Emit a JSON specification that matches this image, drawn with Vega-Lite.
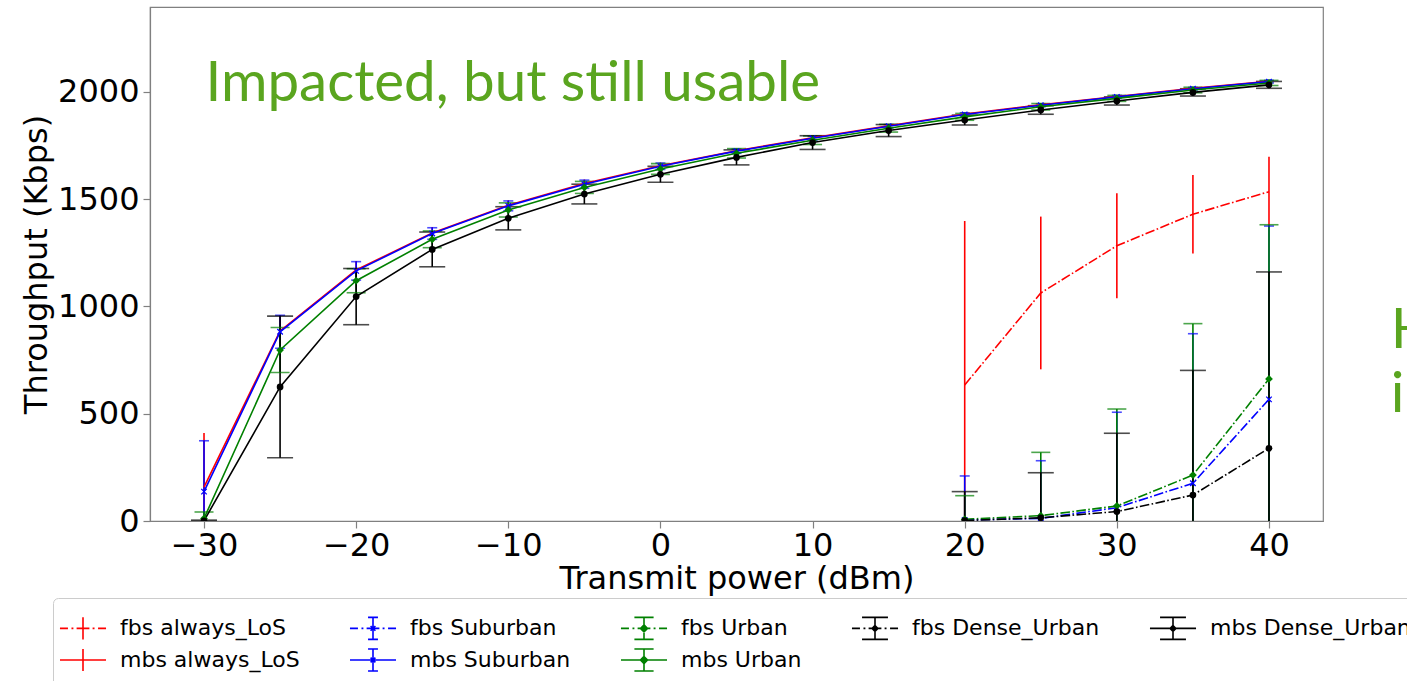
{
  "$schema": "https://vega.github.io/schema/vega-lite/v6.json",
  "width": 1173,
  "height": 514,
  "autosize": {"type": "none"},
  "padding": {"left": 150, "top": 7, "right": 84, "bottom": 160},
  "background": "white",
  "config": {
    "font": "DejaVu Sans",
    "view": {"stroke": "#808080", "strokeWidth": 1.2},
    "axis": {
      "grid": false,
      "domainColor": "#808080",
      "domainWidth": 1.2,
      "tickColor": "#808080",
      "tickSize": 7,
      "tickWidth": 1.2,
      "labelFont": "DejaVu Sans",
      "labelFontSize": 32,
      "labelColor": "black",
      "titleFont": "DejaVu Sans",
      "titleFontSize": 32,
      "titleFontWeight": "normal",
      "titleColor": "black"
    },
    "legend": {
      "orient": "none",
      "legendX": -97,
      "legendY": 591,
      "direction": "horizontal",
      "columns": 5,
      "symbolSize": 1024,
      "symbolStrokeWidth": 1.6,
      "symbolOpacity": 1,
      "labelFont": "DejaVu Sans",
      "labelFontSize": 22,
      "labelColor": "black",
      "labelOffset": 20,
      "labelLimit": 400,
      "columnPadding": 46,
      "rowPadding": 0,
      "padding": 13,
      "strokeColor": "#cccccc",
      "cornerRadius": 5,
      "fillColor": "white"
    }
  },
  "resolve": {"legend": {"color": "independent", "shape": "independent", "size": "independent"}},
  "datasets": {
    "d": [
      {"s": "fbs always_LoS", "x": 20, "y": 634, "lo": -131, "hi": 1399},
      {"s": "fbs always_LoS", "x": 25, "y": 1063, "lo": 707, "hi": 1419},
      {"s": "fbs always_LoS", "x": 30, "y": 1283, "lo": 1038, "hi": 1528},
      {"s": "fbs always_LoS", "x": 35, "y": 1430, "lo": 1247, "hi": 1613},
      {"s": "fbs always_LoS", "x": 40, "y": 1535, "lo": 1372, "hi": 1698},
      {"s": "mbs always_LoS", "x": -30, "y": 158, "lo": -94, "hi": 410},
      {"s": "mbs always_LoS", "x": -25, "y": 886, "lo": 814, "hi": 958},
      {"s": "mbs always_LoS", "x": -20, "y": 1170, "lo": 1128, "hi": 1212},
      {"s": "mbs always_LoS", "x": -15, "y": 1343, "lo": 1316, "hi": 1370},
      {"s": "mbs always_LoS", "x": -10, "y": 1472, "lo": 1449, "hi": 1495},
      {"s": "mbs always_LoS", "x": -5, "y": 1573, "lo": 1554, "hi": 1592},
      {"s": "mbs always_LoS", "x": 0, "y": 1656, "lo": 1641, "hi": 1671},
      {"s": "mbs always_LoS", "x": 5, "y": 1726, "lo": 1716, "hi": 1736},
      {"s": "mbs always_LoS", "x": 10, "y": 1786, "lo": 1777, "hi": 1795},
      {"s": "mbs always_LoS", "x": 15, "y": 1842, "lo": 1834, "hi": 1850},
      {"s": "mbs always_LoS", "x": 20, "y": 1897, "lo": 1889, "hi": 1905},
      {"s": "mbs always_LoS", "x": 25, "y": 1940, "lo": 1933, "hi": 1947},
      {"s": "mbs always_LoS", "x": 30, "y": 1979, "lo": 1972, "hi": 1986},
      {"s": "mbs always_LoS", "x": 35, "y": 2017, "lo": 2011, "hi": 2023},
      {"s": "mbs always_LoS", "x": 40, "y": 2050, "lo": 2044, "hi": 2056},
      {"s": "fbs Suburban", "x": 20, "y": 5, "lo": -200, "hi": 210},
      {"s": "fbs Suburban", "x": 25, "y": 12, "lo": -257, "hi": 281},
      {"s": "fbs Suburban", "x": 30, "y": 62, "lo": -383, "hi": 507},
      {"s": "fbs Suburban", "x": 35, "y": 176, "lo": -521, "hi": 873},
      {"s": "fbs Suburban", "x": 40, "y": 567, "lo": -241, "hi": 1375},
      {"s": "mbs Suburban", "x": -30, "y": 137, "lo": -100, "hi": 374},
      {"s": "mbs Suburban", "x": -25, "y": 882, "lo": 805, "hi": 959},
      {"s": "mbs Suburban", "x": -20, "y": 1166, "lo": 1123, "hi": 1209},
      {"s": "mbs Suburban", "x": -15, "y": 1340, "lo": 1313, "hi": 1367},
      {"s": "mbs Suburban", "x": -10, "y": 1469, "lo": 1446, "hi": 1492},
      {"s": "mbs Suburban", "x": -5, "y": 1570, "lo": 1551, "hi": 1589},
      {"s": "mbs Suburban", "x": 0, "y": 1654, "lo": 1639, "hi": 1669},
      {"s": "mbs Suburban", "x": 5, "y": 1724, "lo": 1714, "hi": 1734},
      {"s": "mbs Suburban", "x": 10, "y": 1784, "lo": 1775, "hi": 1793},
      {"s": "mbs Suburban", "x": 15, "y": 1840, "lo": 1832, "hi": 1848},
      {"s": "mbs Suburban", "x": 20, "y": 1895, "lo": 1887, "hi": 1903},
      {"s": "mbs Suburban", "x": 25, "y": 1938, "lo": 1931, "hi": 1945},
      {"s": "mbs Suburban", "x": 30, "y": 1977, "lo": 1970, "hi": 1984},
      {"s": "mbs Suburban", "x": 35, "y": 2015, "lo": 2009, "hi": 2021},
      {"s": "mbs Suburban", "x": 40, "y": 2048, "lo": 2042, "hi": 2054},
      {"s": "fbs Urban", "x": 20, "y": 8, "lo": -102, "hi": 118},
      {"s": "fbs Urban", "x": 25, "y": 25, "lo": -270, "hi": 320},
      {"s": "fbs Urban", "x": 30, "y": 70, "lo": -382, "hi": 522},
      {"s": "fbs Urban", "x": 35, "y": 214, "lo": -492, "hi": 920},
      {"s": "fbs Urban", "x": 40, "y": 662, "lo": -57, "hi": 1381},
      {"s": "mbs Urban", "x": -30, "y": 12, "lo": -18, "hi": 42},
      {"s": "mbs Urban", "x": -25, "y": 797, "lo": 692, "hi": 902},
      {"s": "mbs Urban", "x": -20, "y": 1120, "lo": 1064, "hi": 1176},
      {"s": "mbs Urban", "x": -15, "y": 1313, "lo": 1274, "hi": 1352},
      {"s": "mbs Urban", "x": -10, "y": 1450, "lo": 1417, "hi": 1483},
      {"s": "mbs Urban", "x": -5, "y": 1555, "lo": 1527, "hi": 1583},
      {"s": "mbs Urban", "x": 0, "y": 1641, "lo": 1616, "hi": 1666},
      {"s": "mbs Urban", "x": 5, "y": 1714, "lo": 1692, "hi": 1736},
      {"s": "mbs Urban", "x": 10, "y": 1775, "lo": 1755, "hi": 1795},
      {"s": "mbs Urban", "x": 15, "y": 1831, "lo": 1813, "hi": 1849},
      {"s": "mbs Urban", "x": 20, "y": 1884, "lo": 1868, "hi": 1900},
      {"s": "mbs Urban", "x": 25, "y": 1931, "lo": 1916, "hi": 1946},
      {"s": "mbs Urban", "x": 30, "y": 1970, "lo": 1956, "hi": 1984},
      {"s": "mbs Urban", "x": 35, "y": 2009, "lo": 1996, "hi": 2022},
      {"s": "mbs Urban", "x": 40, "y": 2042, "lo": 2030, "hi": 2054},
      {"s": "fbs Dense_Urban", "x": 20, "y": 2, "lo": -133, "hi": 137},
      {"s": "fbs Dense_Urban", "x": 25, "y": 15, "lo": -195, "hi": 225},
      {"s": "fbs Dense_Urban", "x": 30, "y": 44, "lo": -321, "hi": 409},
      {"s": "fbs Dense_Urban", "x": 35, "y": 121, "lo": -460, "hi": 702},
      {"s": "fbs Dense_Urban", "x": 40, "y": 339, "lo": -483, "hi": 1161},
      {"s": "mbs Dense_Urban", "x": -30, "y": 1, "lo": -2, "hi": 4},
      {"s": "mbs Dense_Urban", "x": -25, "y": 625, "lo": 295, "hi": 955},
      {"s": "mbs Dense_Urban", "x": -20, "y": 1046, "lo": 915, "hi": 1177},
      {"s": "mbs Dense_Urban", "x": -15, "y": 1266, "lo": 1185, "hi": 1347},
      {"s": "mbs Dense_Urban", "x": -10, "y": 1411, "lo": 1357, "hi": 1465},
      {"s": "mbs Dense_Urban", "x": -5, "y": 1524, "lo": 1478, "hi": 1570},
      {"s": "mbs Dense_Urban", "x": 0, "y": 1616, "lo": 1579, "hi": 1653},
      {"s": "mbs Dense_Urban", "x": 5, "y": 1695, "lo": 1660, "hi": 1730},
      {"s": "mbs Dense_Urban", "x": 10, "y": 1764, "lo": 1732, "hi": 1796},
      {"s": "mbs Dense_Urban", "x": 15, "y": 1820, "lo": 1792, "hi": 1848},
      {"s": "mbs Dense_Urban", "x": 20, "y": 1869, "lo": 1846, "hi": 1892},
      {"s": "mbs Dense_Urban", "x": 25, "y": 1916, "lo": 1896, "hi": 1936},
      {"s": "mbs Dense_Urban", "x": 30, "y": 1958, "lo": 1939, "hi": 1977},
      {"s": "mbs Dense_Urban", "x": 35, "y": 1998, "lo": 1981, "hi": 2015},
      {"s": "mbs Dense_Urban", "x": 40, "y": 2033, "lo": 2017, "hi": 2049}
    ],
    "notes": [
      {"t": "Impacted, but still usable", "x": -29.9, "y": 1960}
    ],
    "notes2": [
      {"t": ["Heavily", "impacted"], "x": 48.0, "y": 806}
    ]
  },
  "data": {"name": "d"},
  "encoding": {
    "x": {
      "field": "x", "type": "quantitative",
      "scale": {"domain": [-33.55, 43.55], "nice": false, "zero": false},
      "axis": {"values": [-30, -20, -10, 0, 10, 20, 30, 40], "title": "Transmit power (dBm)", "labelPadding": 2, "titlePadding": 2}
    }
  },
  "layer": [
    {
      "mark": {"type": "rule", "strokeWidth": 1.6, "clip": true},
      "encoding": {
        "y": {"field": "lo", "type": "quantitative",
          "scale": {"domain": [0, 2396], "nice": false},
          "axis": {"values": [0, 500, 1000, 1500, 2000], "format": "d", "title": "Throughput (Kbps)", "labelPadding": 4, "titlePadding": 4}},
        "y2": {"field": "hi"},
        "color": {"field": "s", "type": "nominal", "legend": null,
          "scale": {
            "domain": ["fbs always_LoS", "fbs Suburban", "fbs Urban", "fbs Dense_Urban", "mbs Dense_Urban", "mbs always_LoS", "mbs Suburban", "mbs Urban"],
            "range": ["#ff0000", "#0000ff", "#008000", "#000000", "#000000", "#ff0000", "#0000ff", "#008000"]}}
      }
    },
    {
      "transform": [{"filter": "indexof(datum.s, 'Suburban') > 0"}, {"fold": ["lo", "hi"], "as": ["k", "v"]}],
      "mark": {"type": "tick", "orient": "horizontal", "thickness": 1.6, "size": 10, "clip": true},
      "encoding": {
        "y": {"field": "v", "type": "quantitative"},
        "color": {"field": "s", "type": "nominal", "legend": null}
      }
    },
    {
      "transform": [{"filter": "indexof(datum.s, ' Urban') > 0"}, {"fold": ["lo", "hi"], "as": ["k", "v"]}],
      "mark": {"type": "tick", "orient": "horizontal", "thickness": 1.6, "size": 19, "clip": true},
      "encoding": {
        "y": {"field": "v", "type": "quantitative"},
        "color": {"field": "s", "type": "nominal", "legend": null}
      }
    },
    {
      "transform": [{"filter": "indexof(datum.s, 'Dense') > 0"}, {"fold": ["lo", "hi"], "as": ["k", "v"]}],
      "mark": {"type": "tick", "orient": "horizontal", "thickness": 1.6, "size": 26, "clip": true},
      "encoding": {
        "y": {"field": "v", "type": "quantitative"},
        "color": {"field": "s", "type": "nominal", "legend": null}
      }
    },
    {
      "transform": [{"filter": "indexof(datum.s, 'fbs') == 0"}],
      "mark": {"type": "line", "strokeWidth": 1.6, "strokeDash": [9.6, 2.4, 1.6, 2.4], "clip": true},
      "encoding": {
        "y": {"field": "y", "type": "quantitative"},
        "color": {"field": "s", "type": "nominal", "legend": null},
        "detail": {"field": "s"}
      }
    },
    {
      "transform": [{"filter": "indexof(datum.s, 'mbs') == 0"}],
      "mark": {"type": "line", "strokeWidth": 1.6, "clip": true},
      "encoding": {
        "y": {"field": "y", "type": "quantitative"},
        "color": {"field": "s", "type": "nominal", "legend": null},
        "detail": {"field": "s"}
      }
    },
    {
      "transform": [{"filter": "indexof(datum.s, 'Suburban') > 0"}],
      "mark": {"type": "point", "shape": "M-1,-1L1,1M-1,1L1,-1", "size": 30, "filled": false, "strokeWidth": 1.3, "opacity": 1, "clip": true},
      "encoding": {
        "y": {"field": "y", "type": "quantitative"},
        "color": {"field": "s", "type": "nominal", "legend": null}
      }
    },
    {
      "transform": [{"filter": "indexof(datum.s, ' Urban') > 0"}],
      "mark": {"type": "point", "shape": "diamond", "size": 60, "filled": true, "opacity": 1, "clip": true},
      "encoding": {
        "y": {"field": "y", "type": "quantitative"},
        "color": {"field": "s", "type": "nominal", "legend": null}
      }
    },
    {
      "transform": [{"filter": "indexof(datum.s, 'Dense') > 0"}],
      "mark": {"type": "point", "shape": "circle", "size": 45, "filled": true, "opacity": 1, "clip": true},
      "encoding": {
        "y": {"field": "y", "type": "quantitative"},
        "color": {"field": "s", "type": "nominal", "legend": null}
      }
    },
    {
      "transform": [{"filter": "datum.x < -100"}],
      "mark": {"type": "point", "filled": false, "opacity": 1},
      "encoding": {
        "y": {"field": "y", "type": "quantitative"},
        "color": {"field": "s", "type": "nominal", "legend": {"title": null}},
        "shape": {"field": "s", "type": "nominal", "legend": {"title": null},
          "scale": {
            "domain": ["fbs always_LoS", "fbs Suburban", "fbs Urban", "fbs Dense_Urban", "mbs Dense_Urban", "mbs always_LoS", "mbs Suburban", "mbs Urban"],
            "range": [
              "M-1.44,0H-0.94M-0.72,0H-0.6M-0.4,0H0.4M0.6,0H0.72M0.94,0H1.44M0,-0.69V0.69",
              "M-1.44,0H-0.94M-0.72,0H-0.6M-0.4,0H0.4M0.6,0H0.72M0.94,0H1.44M0,-0.69V0.69M-0.31,-0.69H0.31M-0.31,0.69H0.31M-0.15,-0.15L0.15,0.15M-0.15,0.15L0.15,-0.15",
              "M-1.44,0H-0.94M-0.72,0H-0.6M-0.4,0H0.4M0.6,0H0.72M0.94,0H1.44M0,-0.69V0.69M-0.6,-0.69H0.6M-0.6,0.69H0.6M0,-0.22L0.22,0L0,0.22L-0.22,0ZM0,-0.1L0.1,0L0,0.1L-0.1,0Z",
              "M-1.44,0H-0.94M-0.72,0H-0.6M-0.4,0H0.4M0.6,0H0.72M0.94,0H1.44M0,-0.69V0.69M-0.81,-0.69H0.81M-0.81,0.69H0.81M0,-0.18L0.18,0L0,0.18L-0.18,0ZM0,-0.08L0.08,0L0,0.08L-0.08,0Z",
              "M-1.44,0H1.44M0,-0.69V0.69M-0.81,-0.69H0.81M-0.81,0.69H0.81M0,-0.18L0.18,0L0,0.18L-0.18,0ZM0,-0.08L0.08,0L0,0.08L-0.08,0Z",
              "M-1.44,0H1.44M0,-0.69V0.69",
              "M-1.44,0H1.44M0,-0.69V0.69M-0.31,-0.69H0.31M-0.31,0.69H0.31M-0.15,-0.15L0.15,0.15M-0.15,0.15L0.15,-0.15",
              "M-1.44,0H1.44M0,-0.69V0.69M-0.6,-0.69H0.6M-0.6,0.69H0.6M0,-0.22L0.22,0L0,0.22L-0.22,0ZM0,-0.1L0.1,0L0,0.1L-0.1,0Z"
            ]}}
      }
    },
    {
      "data": {"name": "notes"},
      "mark": {"type": "text", "font": "Lato", "fontSize": 56.5, "color": "#5aa51f", "align": "left", "baseline": "alphabetic", "clip": false},
      "encoding": {
        "y": {"field": "y", "type": "quantitative"},
        "text": {"field": "t"}
      }
    },
    {
      "data": {"name": "notes2"},
      "mark": {"type": "text", "font": "Lato", "fontSize": 57, "color": "#5aa51f", "align": "left", "baseline": "alphabetic", "lineHeight": 64, "clip": false},
      "encoding": {
        "y": {"field": "y", "type": "quantitative"},
        "text": {"field": "t"}
      }
    }
  ]
}
